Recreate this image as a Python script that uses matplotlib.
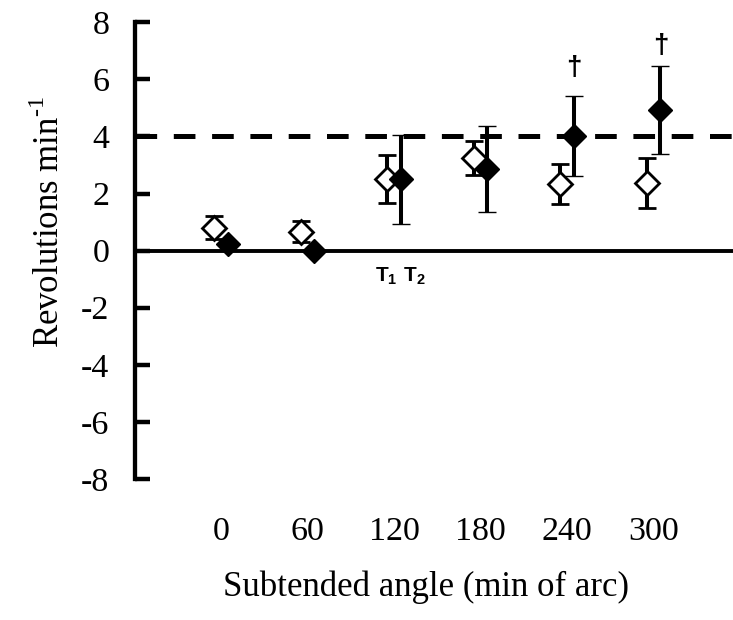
import matplotlib
matplotlib.use("Agg")
import matplotlib.pyplot as plt
import numpy as np

# data
angle_labels = ["0", "60", "120", "180", "240", "300"]
open_mean = [0.80, 0.67, 2.50, 3.24, 2.34, 2.36]
open_err = [0.40, 0.38, 0.84, 0.59, 0.71, 0.88]
filled_mean = [0.23, 0.00, 2.50, 2.85, 4.03, 4.93]
filled_err = [0.00, 0.00, 1.56, 1.50, 1.40, 1.54]
reference_level = 4.0
dagger_idx = [4, 5]
dagger_y = [6.40, 7.17]

plt.rcParams["font.family"] = ["Liberation Serif", "DejaVu Serif"]
plt.rcParams["axes.unicode_minus"] = False
plt.rcParams["mathtext.fontset"] = "custom"
plt.rcParams["mathtext.rm"] = "Liberation Serif"
plt.rcParams["mathtext.bf"] = "Liberation Sans:bold"

W, H = 733, 620
fig = plt.figure(figsize=(W / 100, H / 100), dpi=100)
ax = fig.add_axes([134.5 / W, 1 - 479 / H, 605.5 / W, 456.7 / H])

x = np.arange(len(angle_labels))
off = 0.08

# reference lines
ax.axhline(0, color="black", lw=2.8, zorder=1)
ax.axhline(reference_level, color="black", lw=3.6, dashes=(4.33, 3.33), zorder=1)

ebar = dict(ecolor="black", elinewidth=2.9, capsize=6.8, capthick=2.9,
            markersize=12.5, markeredgecolor="black", zorder=3)
ax.errorbar(x - off, open_mean, yerr=open_err, fmt="D",
            markerfacecolor="white", markeredgewidth=2.0, **ebar)
ax.errorbar(x + off, filled_mean, yerr=filled_err, fmt="D",
            markerfacecolor="black", markeredgewidth=1.0, **ebar)

for i, yv in zip(dagger_idx, dagger_y):
    ax.text(x[i] + off, yv, "\u2020", ha="center", va="center",
            fontsize=20, fontweight="bold", family="Liberation Sans")

ax.text(2.07, -0.52, r"$\mathbf{T_1\ T_2}$", ha="center", va="top", fontsize=15)

ax.set_xlim(-1, 6)
ax.set_ylim(-8, 8)
ax.set_yticks(np.arange(-8, 9, 2))
ax.set_xticks(x)
ax.set_xticklabels(angle_labels)

for s in ["top", "right", "bottom"]:
    ax.spines[s].set_visible(False)
ax.spines["left"].set_linewidth(3.1)
ax.spines["left"].set_capstyle("projecting")

ax.tick_params(axis="y", direction="in", length=10.8, width=3.2,
               labelsize=24.5, pad=18)
ax.tick_params(axis="x", length=0, labelsize=24.5, pad=27)

ax.set_xlabel("Subtended angle (min of arc)", fontsize=25)
ax.xaxis.set_label_coords(0.481, -0.2)
fig.text(50 / W, 1 - 222 / H, r"Revolutions min$^{\text{-1}}$", rotation=90,
         ha="center", va="center", fontsize=25)

fig.savefig("out.png", dpi=100)
